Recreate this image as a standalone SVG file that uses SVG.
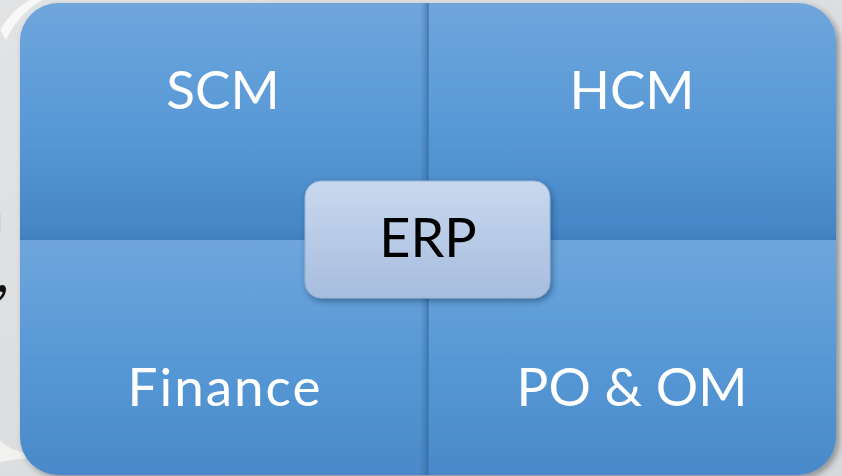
<svg xmlns="http://www.w3.org/2000/svg" width="842" height="476" viewBox="0 0 842 476">
  <style>
    .lbl { font-family: Lato, "Open Sans", "Liberation Sans", sans-serif; font-size: 53px; fill: #ffffff; text-anchor: middle; }
    .erp { font-family: Lato, "Open Sans", "Liberation Sans", sans-serif; font-size: 54px; fill: #000000; text-anchor: middle; }
    .frag { font-family: Lato, "Liberation Sans", sans-serif; font-size: 60px; fill: #111111; text-anchor: end; }
  </style>
  <defs>
    <linearGradient id="gTop" x1="0" y1="3" x2="0" y2="240" gradientUnits="userSpaceOnUse">
      <stop offset="0" stop-color="#6fa6dc"/>
      <stop offset="0.55" stop-color="#5698d6"/>
      <stop offset="0.94" stop-color="#4887c7"/>
      <stop offset="1" stop-color="#4180c0"/>
    </linearGradient>
    <linearGradient id="gBot" x1="0" y1="240" x2="0" y2="475" gradientUnits="userSpaceOnUse">
      <stop offset="0" stop-color="#6ea6dc"/>
      <stop offset="0.55" stop-color="#5597d5"/>
      <stop offset="1" stop-color="#4a89c9"/>
    </linearGradient>
    <linearGradient id="gShade" x1="0" y1="0" x2="1" y2="0">
      <stop offset="0" stop-color="#1e3f66" stop-opacity="0"/>
      <stop offset="1" stop-color="#1e3f66" stop-opacity="0.3"/>
    </linearGradient>
    <linearGradient id="gErp" x1="0" y1="0" x2="0" y2="1">
      <stop offset="0" stop-color="#c8d8ee"/>
      <stop offset="1" stop-color="#a7bddf"/>
    </linearGradient>
    <linearGradient id="gBg" x1="0" y1="0" x2="1" y2="1">
      <stop offset="0" stop-color="#e2e3e4"/>
      <stop offset="1" stop-color="#d7d8da"/>
    </linearGradient>
    <filter id="sh" x="-5%" y="-5%" width="110%" height="115%">
      <feDropShadow dx="3" dy="3" stdDeviation="3" flood-color="#000000" flood-opacity="0.35"/>
    </filter>
    <filter id="shErp" x="-10%" y="-10%" width="125%" height="130%">
      <feDropShadow dx="2" dy="3" stdDeviation="3" flood-color="#102a4a" flood-opacity="0.45"/>
    </filter>
  </defs>

  <rect x="0" y="0" width="842" height="476" fill="url(#gBg)"/>
  <path d="M0,30 Q12,10 30,0 L42,0 Q18,14 6,40 Z" fill="#fafaf8" opacity="0.9"/>
  <path d="M0,440 Q10,452 40,456 L0,462 Z" fill="#f6f6f4" opacity="0.8"/>
  <text class="frag" x="4" y="233">n</text>
  <text class="frag" x="9" y="292">,</text>

  <g filter="url(#sh)">
    <g id="scm">
      <path d="M20,41 A38,38 0 0 1 58,3 H428 V240 H20 Z" fill="url(#gTop)"/>
      <text class="lbl" x="223" y="109">SCM</text>
    </g>
    <g id="hcm">
      <path d="M428,3 H798 A38,38 0 0 1 836,41 V240 H428 Z" fill="url(#gTop)"/>
      <text class="lbl" x="632" y="109">HCM</text>
    </g>
    <g id="finance">
      <path d="M20,240 H428 V475 H58 A38,38 0 0 1 20,437 Z" fill="url(#gBot)"/>
      <text class="lbl" x="225" y="406" letter-spacing="2">Finance</text>
    </g>
    <g id="poom">
      <path d="M428,240 H836 V437 A38,38 0 0 1 798,475 H428 Z" fill="url(#gBot)"/>
      <text class="lbl" x="632" y="406">PO &amp; OM</text>
    </g>
  </g>

  <g id="connectors">
    <rect x="420" y="3" width="8" height="472" fill="url(#gShade)"/>
    <line x1="428" y1="3" x2="428" y2="475" stroke="#3a72ab" stroke-width="1.2"/>
  </g>

  <g id="erp">
    <rect x="305" y="181" width="245" height="117" rx="16" fill="url(#gErp)" stroke="#9ab1d3" stroke-width="1" filter="url(#shErp)"/>
    <text class="erp" x="428" y="257">ERP</text>
  </g>
</svg>
